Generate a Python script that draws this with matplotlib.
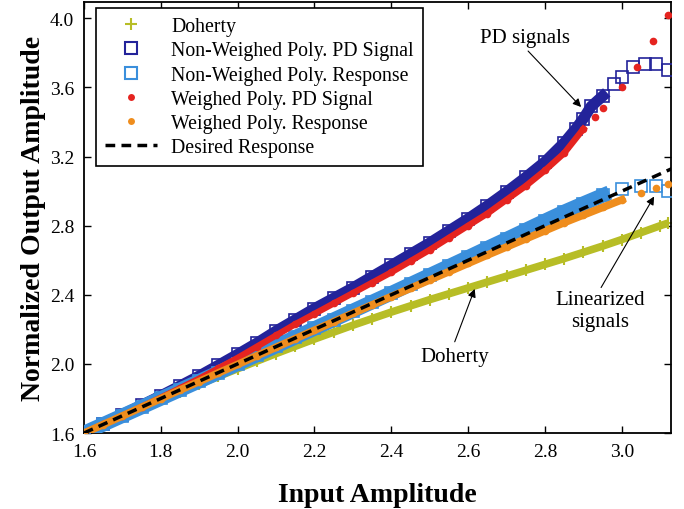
import matplotlib
matplotlib.use("Agg")
import matplotlib.pyplot as plt
from matplotlib.lines import Line2D

OUTPUT_FILE = "out.png"

# Desired (ideal linear) response
DESIRED_X = [1.6, 3.13]
DESIRED_Y = [1.6, 3.13]

# Doherty PA without linearization
DOHERTY_X = [1.60, 1.65, 1.70, 1.75, 1.80, 1.85, 1.90, 1.95, 2.00, 2.05, 2.10,
             2.15, 2.20, 2.25, 2.30, 2.35, 2.40, 2.45, 2.50, 2.55, 2.60, 2.65,
             2.70, 2.75, 2.80, 2.85, 2.90, 2.95, 3.00, 3.05, 3.10, 3.12]
DOHERTY_Y = [1.600, 1.648, 1.696, 1.744, 1.790, 1.836, 1.882, 1.928, 1.972,
             2.016, 2.060, 2.102, 2.144, 2.184, 2.224, 2.262, 2.300, 2.336,
             2.372, 2.406, 2.440, 2.474, 2.508, 2.542, 2.576, 2.610, 2.646,
             2.682, 2.720, 2.760, 2.800, 2.815]

# Non-weighed polynomial: predistorted signal
NW_PD_X = [1.60, 1.65, 1.70, 1.75, 1.80, 1.85, 1.90, 1.95, 2.00, 2.05, 2.10,
           2.15, 2.20, 2.25, 2.30, 2.35, 2.40, 2.45, 2.50, 2.55, 2.60, 2.65,
           2.70, 2.75, 2.80, 2.85, 2.88, 2.90, 2.92, 2.95, 2.98, 3.00, 3.03,
           3.06, 3.09, 3.12]
NW_PD_Y = [1.605, 1.655, 1.707, 1.760, 1.815, 1.872, 1.930, 1.992, 2.055,
           2.120, 2.190, 2.255, 2.320, 2.380, 2.440, 2.505, 2.570, 2.635,
           2.700, 2.770, 2.840, 2.915, 2.995, 3.080, 3.170, 3.280, 3.360,
           3.420, 3.490, 3.550, 3.620, 3.660, 3.720, 3.735, 3.735, 3.700]

# Non-weighed polynomial: linearized response
NW_RESP_X = [1.60, 1.65, 1.70, 1.75, 1.80, 1.85, 1.90, 1.95, 2.00, 2.05, 2.10,
             2.15, 2.20, 2.25, 2.30, 2.35, 2.40, 2.45, 2.50, 2.55, 2.60, 2.65,
             2.70, 2.75, 2.80, 2.85, 2.90, 2.95, 3.00, 3.05, 3.09, 3.12]
NW_RESP_Y = [1.600, 1.650, 1.700, 1.750, 1.800, 1.850, 1.900, 1.950, 2.001,
             2.052, 2.103, 2.154, 2.205, 2.256, 2.307, 2.358, 2.409, 2.461,
             2.513, 2.565, 2.617, 2.670, 2.722, 2.775, 2.828, 2.880, 2.928,
             2.975, 3.010, 3.030, 3.030, 3.000]

# Weighed polynomial: predistorted signal
W_PD_X = [1.60, 1.65, 1.70, 1.75, 1.80, 1.85, 1.90, 1.95, 2.00, 2.05, 2.10,
          2.15, 2.20, 2.25, 2.30, 2.35, 2.40, 2.45, 2.50, 2.55, 2.60, 2.65,
          2.70, 2.75, 2.80, 2.85, 2.90, 2.93, 2.95, 3.00, 3.04, 3.08, 3.12]
W_PD_Y = [1.600, 1.650, 1.700, 1.752, 1.805, 1.860, 1.915, 1.975, 2.035,
          2.100, 2.165, 2.230, 2.290, 2.350, 2.410, 2.470, 2.530, 2.595,
          2.660, 2.730, 2.800, 2.870, 2.950, 3.030, 3.120, 3.220, 3.360,
          3.430, 3.480, 3.600, 3.720, 3.870, 4.020]

# Weighed polynomial: linearized response
W_RESP_X = [1.60, 1.65, 1.70, 1.75, 1.80, 1.85, 1.90, 1.95, 2.00, 2.05, 2.10,
            2.15, 2.20, 2.25, 2.30, 2.35, 2.40, 2.45, 2.50, 2.55, 2.60, 2.65,
            2.70, 2.75, 2.80, 2.85, 2.90, 2.95, 3.00, 3.05, 3.09, 3.12]
W_RESP_Y = [1.599, 1.649, 1.699, 1.749, 1.799, 1.849, 1.898, 1.948, 1.997,
            2.047, 2.096, 2.146, 2.195, 2.244, 2.293, 2.342, 2.390, 2.438,
            2.486, 2.534, 2.582, 2.630, 2.677, 2.724, 2.771, 2.818, 2.862,
            2.906, 2.950, 2.990, 3.020, 3.040]

LABELS = ["Doherty", "Non-Weighed Poly. PD Signal", "Non-Weighed Poly. Response",
          "Weighed Poly. PD Signal", "Weighed Poly. Response", "Desired Response"]

X_TICKS = [1.6, 1.8, 2.0, 2.2, 2.4, 2.6, 2.8, 3.0]
Y_TICKS = [1.6, 2.0, 2.4, 2.8, 3.2, 3.6, 4.0]

C_DOHERTY = "#b7bd26"
C_NW_PD = "#23239a"
C_NW_RESP = "#3a8fdc"
C_W_PD = "#e52420"
C_W_RESP = "#ef8d1d"


def draw_series(ax):
    """Draws each measured set as a thick band with markers on top."""
    ax.plot(DOHERTY_X, DOHERTY_Y, color=C_DOHERTY, lw=5.5, solid_capstyle="butt", zorder=2)
    ax.plot(DOHERTY_X, DOHERTY_Y, "+", color=C_DOHERTY, ms=9, mew=1.5, zorder=2)

    ax.plot(NW_PD_X[:-6], NW_PD_Y[:-6], color=C_NW_PD, lw=8, zorder=3)
    ax.plot(NW_PD_X, NW_PD_Y, "s", mfc="none", mec=C_NW_PD, ms=8, mew=1.2, zorder=3)

    ax.plot(NW_RESP_X[:-4], NW_RESP_Y[:-4], color=C_NW_RESP, lw=10.5, zorder=4)
    ax.plot(NW_RESP_X, NW_RESP_Y, "s", mfc="none", mec=C_NW_RESP, ms=8, mew=1.2, zorder=4)

    ax.plot(W_PD_X[:-6], W_PD_Y[:-6], color=C_W_PD, lw=4.5, zorder=5)
    ax.plot(W_PD_X, W_PD_Y, "o", color=C_W_PD, ms=5.5, mew=0, zorder=5)

    ax.plot(W_RESP_X[:-3], W_RESP_Y[:-3], color=C_W_RESP, lw=5.5, zorder=6)
    ax.plot(W_RESP_X, W_RESP_Y, "o", color=C_W_RESP, ms=5.5, mew=0, zorder=6)

    ax.plot(DESIRED_X, DESIRED_Y, color="black", lw=2.5, dashes=(2.8, 1.8), zorder=7)


def draw_legend(ax):
    """Legend with marker-only handles like the original figure."""
    handles = [
        Line2D([], [], ls="none", marker="+", color=C_DOHERTY, ms=8, mew=1.5),
        Line2D([], [], ls="none", marker="s", mfc="none", mec=C_NW_PD, ms=8, mew=1.5),
        Line2D([], [], ls="none", marker="s", mfc="none", mec=C_NW_RESP, ms=8, mew=1.5),
        Line2D([], [], ls="none", marker="o", color=C_W_PD, ms=5, mew=0),
        Line2D([], [], ls="none", marker="o", color=C_W_RESP, ms=5, mew=0),
        Line2D([], [], color="black", lw=2.5, dashes=(2.8, 1.8)),
    ]
    leg = ax.legend(handles, LABELS, loc="upper left", bbox_to_anchor=(0.0204, 0.986),
                    borderaxespad=0, prop={"size": 14.3}, frameon=True, fancybox=False,
                    edgecolor="black", framealpha=1, handlelength=2.6,
                    handletextpad=0.75, borderpad=0.45, labelspacing=0.26)
    leg.get_frame().set_linewidth(1.2)
    leg.set_zorder(10)


def draw_annotations(ax):
    """Text labels with arrows pointing at the curves."""
    arrow = dict(arrowstyle="-|>", color="black", lw=0.8, mutation_scale=12,
                 shrinkA=0, shrinkB=0)
    ax.annotate("", xy=(2.894, 3.487), xytext=(2.756, 3.811), arrowprops=arrow, zorder=9)
    ax.text(2.748, 3.892, "PD signals", fontsize=15, ha="center", va="center")

    ax.annotate("", xy=(3.084, 2.969), xytext=(2.946, 2.442), arrowprops=arrow, zorder=9)
    ax.text(2.944, 2.307, "Linearized\nsignals", fontsize=15, ha="center", va="center")

    ax.annotate("", xy=(2.617, 2.434), xytext=(2.565, 2.128), arrowprops=arrow, zorder=9)
    ax.text(2.565, 2.040, "Doherty", fontsize=15, ha="center", va="center")


def main():
    plt.rcParams["font.family"] = ["Liberation Serif", "DejaVu Serif"]

    fig = plt.figure(figsize=(6.84, 5.10), dpi=100)
    ax = fig.add_axes([0.1228, 0.149, 0.8582, 0.8445])

    draw_series(ax)
    draw_legend(ax)
    draw_annotations(ax)

    ax.set_xlim(1.6, 3.128)
    ax.set_ylim(1.6, 4.093)
    ax.set_xticks(X_TICKS)
    ax.set_yticks(Y_TICKS)
    ax.set_xticklabels([f"{t:.1f}" for t in X_TICKS])
    ax.set_yticklabels([f"{t:.1f}" for t in Y_TICKS])
    ax.tick_params(direction="in", length=5, width=1, labelsize=14, pad=7,
                   top=True, right=True)
    for spine in ax.spines.values():
        spine.set_linewidth(1.3)

    ax.set_xlabel("Input Amplitude", fontsize=20, fontweight="bold", labelpad=16)
    ax.set_ylabel("Normalized Output Amplitude", fontsize=20, fontweight="bold", labelpad=3)

    fig.savefig(OUTPUT_FILE, dpi=100)


if __name__ == "__main__":
    main()
